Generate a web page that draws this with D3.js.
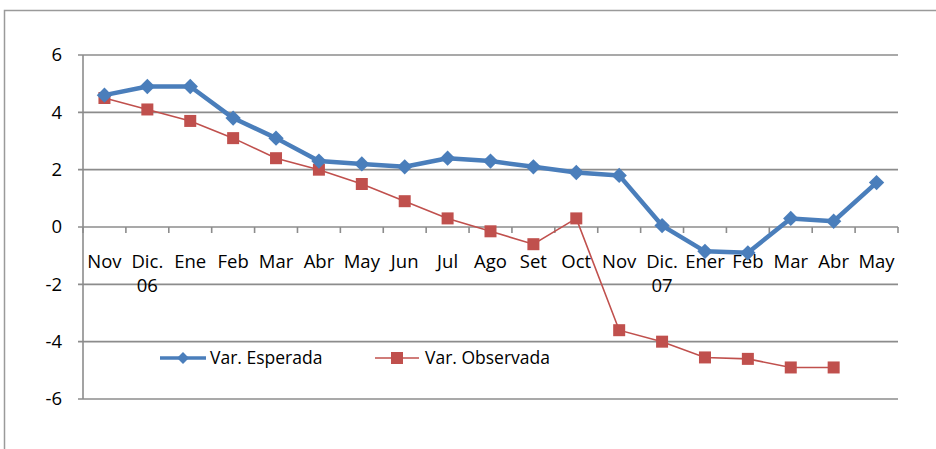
<!DOCTYPE html>
<html><head><meta charset="utf-8">
<script src="https://cdn.jsdelivr.net/npm/d3@7"></script>
<style>body{margin:0;background:#fff}svg{display:block}text{font-family:"Open Sans",Lato,sans-serif;fill:#000}</style>
</head><body>
<script>
const categories = ["Nov","Dic.|06","Ene","Feb","Mar","Abr","May","Jun","Jul","Ago","Set","Oct","Nov","Dic.|07","Ener","Feb","Mar","Abr","May"];
const esperada = [4.6,4.9,4.9,3.8,3.1,2.3,2.2,2.1,2.4,2.3,2.1,1.9,1.8,0.05,-0.85,-0.9,0.3,0.2,1.55];
const observada = [4.5,4.1,3.7,3.1,2.4,2.0,1.5,0.9,0.3,-0.15,-0.6,0.3,-3.6,-4.0,-4.55,-4.6,-4.9,-4.9,null];
const yTicks = [-6,-4,-2,0,2,4,6];
const seriesNames = ["Var. Esperada","Var. Observada"];

const W=936,H=449;
const svg=d3.select("body").append("svg").attr("width",W).attr("height",H);
svg.append("rect").attr("x",4.5).attr("y",10.5).attr("width",W+10).attr("height",H+10).attr("fill","none").attr("stroke","#9a9a9a").attr("stroke-width",1.5);

const x=d3.scaleBand().domain(d3.range(categories.length)).range([83,898]);
const y=d3.scaleLinear().domain([-6,6]).range([399,55]);
const grid="#8c8c8c";

svg.append("g").selectAll("line").data(yTicks).join("line")
 .attr("x1",78).attr("x2",898).attr("y1",d=>y(d)).attr("y2",d=>y(d))
 .attr("stroke",grid).attr("stroke-width",1.6);
svg.append("line").attr("x1",83).attr("x2",83).attr("y1",y(6)).attr("y2",y(-6)).attr("stroke",grid).attr("stroke-width",1.6);
svg.append("g").selectAll("text").data(yTicks).join("text")
 .attr("x",62).attr("y",d=>y(d)).attr("dy","0.35em").attr("text-anchor","end")
 .attr("font-size",18.5).text(d=>d);
const bounds=d3.range(categories.length+1).map(i=>83+i*x.bandwidth());
svg.append("g").selectAll("line").data(bounds).join("line")
 .attr("x1",d=>d).attr("x2",d=>d).attr("y1",y(0)).attr("y2",y(0)+6)
 .attr("stroke",grid).attr("stroke-width",1.6);
const cl=svg.append("g").selectAll("text").data(categories).join("text")
 .attr("x",(d,i)=>x(i)+x.bandwidth()/2).attr("y",268).attr("text-anchor","middle").attr("font-size",18.5);
cl.each(function(d){
  const parts=d.split("|");const t=d3.select(this);const cx=t.attr("x");
  parts.forEach((p,k)=>t.append("tspan").attr("x",cx).attr("dy",k?24:0).text(p));
});

const cx=i=>x(i)+x.bandwidth()/2;
const blue="#4a7ebb",red="#c0504d";
const obsData=observada.map((v,i)=>({i,v})).filter(d=>d.v!==null);
svg.append("path").datum(obsData).attr("fill","none").attr("stroke",red).attr("stroke-width",1.6)
 .attr("d",d3.line().x(d=>cx(d.i)).y(d=>y(d.v)));
svg.append("g").selectAll("rect").data(obsData).join("rect")
 .attr("x",d=>cx(d.i)-6).attr("y",d=>y(d.v)-6).attr("width",12).attr("height",12).attr("fill",red);
const espData=esperada.map((v,i)=>({i,v}));
svg.append("path").datum(espData).attr("fill","none").attr("stroke",blue).attr("stroke-width",4.5).attr("stroke-linejoin","round")
 .attr("d",d3.line().x(d=>cx(d.i)).y(d=>y(d.v)));
const diamond=d3.symbol().type(d3.symbolDiamond2).size(150);
svg.append("g").selectAll("path").data(espData).join("path")
 .attr("transform",d=>`translate(${cx(d.i)},${y(d.v)})`).attr("d",diamond).attr("fill",blue);

const lg=svg.append("g");
lg.append("line").attr("x1",160).attr("x2",206).attr("y1",358).attr("y2",358).attr("stroke",blue).attr("stroke-width",3.5);
lg.append("path").attr("transform","translate(183,358)").attr("d",d3.symbol().type(d3.symbolDiamond2).size(90)).attr("fill",blue);
lg.append("text").attr("x",210).attr("y",358).attr("dy","0.35em").attr("font-size",17.5).text(seriesNames[0]);
lg.append("line").attr("x1",375).attr("x2",419).attr("y1",358).attr("y2",358).attr("stroke",red).attr("stroke-width",1.6);
lg.append("rect").attr("x",391).attr("y",352).attr("width",12).attr("height",12).attr("fill",red);
lg.append("text").attr("x",425).attr("y",358).attr("dy","0.35em").attr("font-size",17.5).text(seriesNames[1]);
</script>
</body></html>
